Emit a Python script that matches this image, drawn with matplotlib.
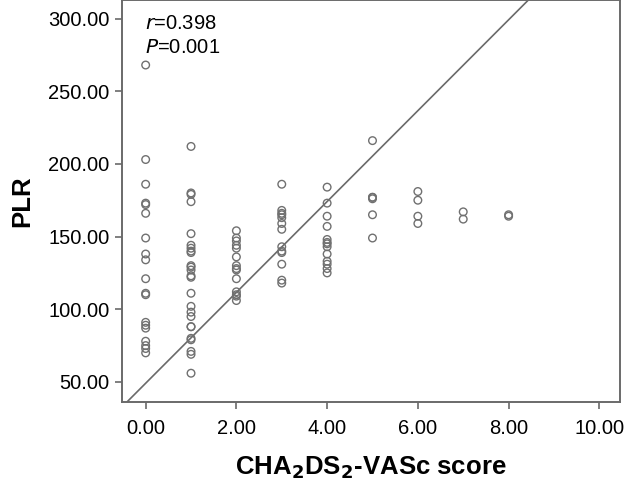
import numpy as np
import matplotlib
matplotlib.use("Agg")
import matplotlib.pyplot as plt

plt.rcParams['font.family'] = ['Liberation Sans', 'DejaVu Sans']

# PLR values, grouped by CHA2DS2-VASc score
plr_0 = [268, 203, 186, 173, 172, 166, 149, 138, 134, 121, 111, 110,
         91, 89, 87, 78, 75, 73, 70]
plr_1 = [212, 180, 179, 174, 152, 144, 142, 140, 139, 130, 129, 127, 123,
         122, 111, 102, 98, 95, 88, 88, 80, 79, 71, 69, 56]
plr_2 = [154, 149, 147, 144, 142, 136, 130, 128, 127, 121, 112, 110, 109, 106]
plr_3 = [186, 168, 166, 165, 163, 159, 155, 143, 140, 139, 131, 120, 118]
plr_4 = [184, 173, 164, 157, 148, 146, 145, 143, 138, 133, 131, 128, 125]
plr_5 = [216, 177, 177, 176, 165, 149]
plr_6 = [181, 175, 164, 159]
plr_7 = [167, 162]
plr_8 = [165, 164]
groups = [plr_0, plr_1, plr_2, plr_3, plr_4, plr_5, plr_6, plr_7, plr_8]

# reference line as drawn in the figure
line_intercept = 49.1
line_slope = 31.25

xticks = [0, 2, 4, 6, 8, 10]
yticks = [50, 100, 150, 200, 250, 300]

fig = plt.figure(figsize=(6.26, 4.83), dpi=100)
ax = fig.add_axes([0.195, 0.168, 0.795, 0.831])

xs, ys = [], []
for score, vals in enumerate(groups):
    xs += [score] * len(vals)
    ys += vals
ax.scatter(xs, ys, s=30, facecolors='none', edgecolors='#707070', linewidths=1.0, zorder=3)

ax.axline((0, line_intercept), slope=line_slope, color='#6a6a6a', lw=1.2, zorder=2)

ax.set_xlim(-0.52, 10.45)
ax.set_ylim(36.3, 312.4)
ax.set_xticks(xticks)
ax.set_xticklabels(['%.2f' % t for t in xticks])
ax.set_yticks(yticks)
ax.set_yticklabels(['%.2f' % t for t in yticks])

for sp in ax.spines.values():
    sp.set_color('#6a6a6a')
    sp.set_linewidth(1.4)
ax.tick_params(direction='out', length=5, width=1.2, color='#6a6a6a',
               labelsize=14.5, labelcolor='black')
ax.tick_params(axis='x', pad=7)
ax.tick_params(axis='y', pad=4)

ax.set_xlabel('CHA$_\\mathbf{2}$DS$_\\mathbf{2}$-VASc score', fontsize=18.5,
              fontweight='bold', labelpad=12)
ax.set_ylabel('PLR', fontsize=18.5, fontweight='bold', labelpad=10)

ax.text(0.046, 0.930, '$r$=0.398', transform=ax.transAxes, fontsize=14.5,
        va='baseline', ha='left')
ax.text(0.046, 0.868, '$P$=0.001', transform=ax.transAxes, fontsize=14.5,
        va='baseline', ha='left')

fig.savefig('out.png', dpi=100)
